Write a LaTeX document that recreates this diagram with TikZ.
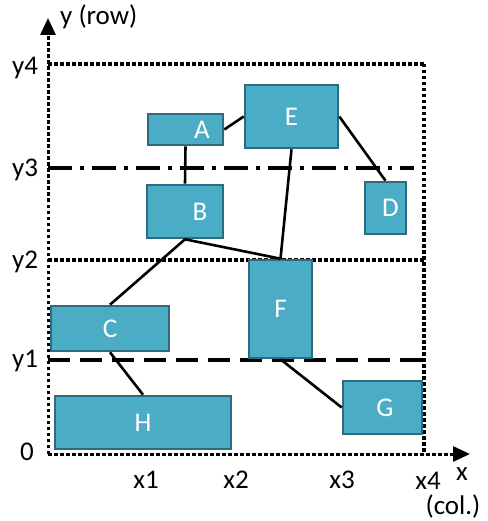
\documentclass[tikz,border=0pt]{standalone}
\usepackage{fontspec}
\setmainfont{Carlito}
\usetikzlibrary{arrows.meta}
\definecolor{boxfill}{HTML}{4BACC6}
\definecolor{boxline}{HTML}{2D6C7C}
\begin{document}
\begin{tikzpicture}[x=1pt,y=-1pt,
  box/.style={draw=boxline,line width=2.6pt,fill=boxfill,inner sep=0pt,text=white,font=\fontsize{27}{30}\selectfont},
  lbl/.style={font=\fontsize{27}{30}\selectfont,inner sep=0pt},
  link/.style={line width=2.6pt,black},
  dotline/.style={line width=3.2pt,dash pattern=on 3.5pt off 2.5pt},
  ax/.style={line width=3pt,dash pattern=on 3.5pt off 2.5pt}
]
\useasboundingbox (0,0) rectangle (487,521);
% grid lines
\draw[dotline] (48,64) -- (424,64);
\draw[line width=3.6pt,dash pattern=on 24pt off 8pt on 4pt off 8pt] (48,168) -- (414,168);
\draw[dotline] (48,260) -- (424,260);
\draw[line width=3.6pt,dash pattern=on 22pt off 10pt] (48,360) -- (424,360);
\draw[dotline] (424,64) -- (424,454);
% axes
\coordinate (o) at (48,454);
\coordinate (ytip) at (48,18);
\coordinate (xtip) at (470,454);
\draw[ax,-{Triangle[length=17pt,width=15pt]}] (o) -- (ytip);
\draw[ax,-{Triangle[length=17pt,width=15pt]}] (o) -- (xtip);
% axis labels
\node[lbl,anchor=west] (ylab) at (60,17) {y (row)};
\node[lbl] (y4) at (25,68) {y4};
\node[lbl] (y3) at (25,170) {y3};
\node[lbl] (y2) at (25,262) {y2};
\node[lbl] (y1) at (25,361) {y1};
\node[lbl] (y0) at (27,452) {0};
\node[lbl] (x1) at (146,480) {x1};
\node[lbl] (x2) at (236,480) {x2};
\node[lbl] (x3) at (342,480) {x3};
\node[lbl] (x4) at (428,481) {x4};
\node[lbl] (xl) at (462,474) {x};
\node[lbl] (col) at (453,506) {(col.)};
% boxes
\node[box,minimum width=75pt,minimum height=31pt] (A) at (185.5,129.5) {\hspace*{33pt}A};
\node[box,minimum width=93pt,minimum height=63pt] (E) at (291.5,116.5) {E};
\node[box,minimum width=76pt,minimum height=53pt] (B) at (185,211.5) {\hspace*{30pt}B};
\node[box,minimum width=41pt,minimum height=52pt] (D) at (385.5,208) {\hspace*{10pt}D};
\node[box,minimum width=63pt,minimum height=98pt] (F) at (280.5,309) {F};
\node[box,minimum width=118pt,minimum height=45pt] (C) at (110,328.5) {C};
\node[box,minimum width=79pt,minimum height=53pt] (G) at (382.5,407.5) {\hspace*{5pt}G};
\node[box,minimum width=176pt,minimum height=53pt] (H) at (143,422.5) {H};
% connectors
\draw[link] (A.east) -- (E.west);
\draw[link] (A.south) -- (B.north);
\draw[link] (E.south) -- (F.north);
\draw[link] (E.east) -- (D.north);
\draw[link] (B.south) -- (F.north);
\draw[link] (B.south) -- (C.north);
\draw[link] (C.south) -- (H.north);
\draw[link] (F.south) -- (G.west);
\end{tikzpicture}
\end{document}
